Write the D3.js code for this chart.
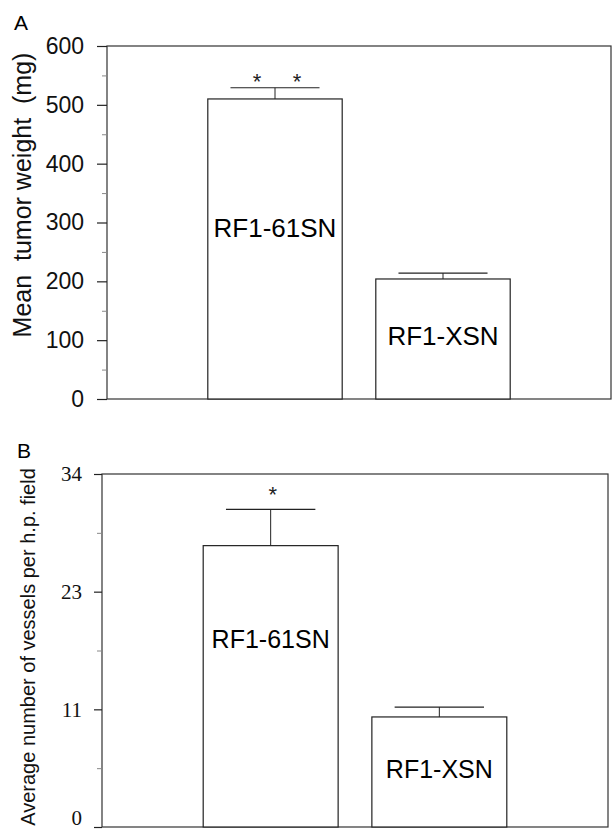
<!DOCTYPE html>
<html lang="en">
    <head>
        <meta charset="utf-8">
        <title>Tumor weight and vessel counts</title>
        <script src="https://d3js.org/d3.v7.min.js"></script>
        <style type="text/css">
          body { margin: 0; background: #fff; }
          svg { display: block; }
          .sans { font-family: "Liberation Sans", Arial, Helvetica, sans-serif; }
          .serif { font-family: "Liberation Serif", "Times New Roman", serif; }
        </style>
    </head>
    <body>
        <svg width="613" height="833"></svg>
        <script type="text/javascript">

            // data
            const groups = ["RF1-61SN", "RF1-XSN"];
            const tumorWeight = [510, 204];      // mg
            const tumorErr = [19, 10];
            const vesselCount = [27.1, 10.6];    // vessels per h.p. field
            const vesselErr = [3.5, 0.95];
            const weightTicks = [0, 100, 200, 300, 400, 500, 600];
            const weightMinor = [50, 150, 250, 350, 450, 550];
            const vesselTicks = [0, 34 / 3, 68 / 3, 34];
            const vesselTickLabels = ["0", "11", "23", "34"];
            const vesselMinor = [34 / 6, 34 / 2, 34 * 5 / 6];
            const weightStars = ["*", "*"];
            const vesselStars = ["*"];

            const svg = d3.select("svg");

            const panels = [
              {
                letter: "A", letterX: 14, letterY: 30,
                x0: 107, x1: 611, y0: 46, y1: 399,
                max: 600, values: tumorWeight, errs: tumorErr,
                ticks: weightTicks, labels: weightTicks.map(String), minor: weightMinor,
                tickLen: 10, tickPad: 13, tickFont: 23, tickClass: "sans",
                title: "Mean  tumor weight  (mg)", titleX: 31, titleY: 195, titleSize: 25,
                labelAt: [275, 92], labelSize: 26,
                stars: weightStars, starDx: [-18, 22], starY: 89
              },
              {
                letter: "B", letterX: 17, letterY: 458,
                x0: 102, x1: 608, y0: 474, y1: 827,
                max: 34, values: vesselCount, errs: vesselErr,
                ticks: vesselTicks, labels: vesselTickLabels, minor: vesselMinor,
                tickLen: 8, tickPad: 12, tickFont: 21, tickClass: "serif",
                title: "Average number of vessels per h.p. field", titleX: 35, titleY: 647, titleSize: 20,
                labelAt: [17.2, 4.7], labelSize: 25,
                stars: vesselStars, starDx: [2], starY: 502
              }
            ];

            panels.forEach(p => {
              const x = d3.scaleLinear().domain([0, 3]).range([p.x0, p.x1]);
              const y = d3.scaleLinear().domain([0, p.max]).range([p.y1, p.y0]);
              const barW = x(0.8) - x(0);
              const capW = x(0.53) - x(0);
              const g = svg.append("g");

              // frame
              g.append("rect")
                .attr("x", p.x0).attr("y", p.y0)
                .attr("width", p.x1 - p.x0).attr("height", p.y1 - p.y0)
                .attr("fill", "none").attr("stroke", "#333").attr("stroke-width", 1.2);

              // minor ticks
              g.append("g")
                .attr("transform", `translate(${p.x0},0)`)
                .call(d3.axisLeft(y).tickValues(p.minor).tickSize(5).tickFormat(""))
                .call(a => a.select(".domain").remove())
                .selectAll("line").attr("stroke", "#888");

              // major ticks + labels
              const ax = g.append("g")
                .attr("transform", `translate(${p.x0},0)`)
                .call(d3.axisLeft(y).tickValues(p.ticks).tickSize(p.tickLen)
                  .tickPadding(p.tickPad).tickFormat((d, i) => p.labels[i]));
              ax.select(".domain").remove();
              ax.selectAll("line").attr("stroke", "#222").attr("stroke-width", 1.2);
              ax.selectAll("text")
                .attr("class", p.tickClass)
                .style("font-size", p.tickFont + "px")
                .attr("fill", "#111");
              // the bottom label sits on the page edge, lift it a little
              ax.selectAll("text").filter(d => d === 0 && p.letter === "B").attr("dy", "-0.1em");

              // bars
              g.selectAll(".bar")
                .data(p.values)
                .enter()
                .append("rect")
                .attr("x", (d, i) => x(i + 1) - barW / 2)
                .attr("y", d => y(d))
                .attr("width", barW)
                .attr("height", d => y(0) - y(d))
                .attr("fill", "#fff")
                .attr("stroke", "#222")
                .attr("stroke-width", 1.2);

              // error bars (upper only)
              g.selectAll(".err")
                .data(p.values)
                .enter()
                .append("line")
                .attr("x1", (d, i) => x(i + 1)).attr("x2", (d, i) => x(i + 1))
                .attr("y1", d => y(d))
                .attr("y2", (d, i) => y(d + p.errs[i]))
                .attr("stroke", "#222");

              g.selectAll(".cap")
                .data(p.values)
                .enter()
                .append("line")
                .attr("x1", (d, i) => x(i + 1) - capW / 2)
                .attr("x2", (d, i) => x(i + 1) + capW / 2)
                .attr("y1", (d, i) => y(d + p.errs[i]))
                .attr("y2", (d, i) => y(d + p.errs[i]))
                .attr("stroke", "#222")
                .attr("stroke-width", 1.2);

              // significance stars
              g.selectAll(".star")
                .data(p.stars)
                .enter()
                .append("text")
                .attr("class", "sans")
                .attr("x", (d, i) => x(1) + p.starDx[i])
                .attr("y", p.starY)
                .attr("text-anchor", "middle")
                .style("font-size", "22px")
                .attr("fill", "#222")
                .text(d => d);

              // bar labels
              g.selectAll(".lbl")
                .data(groups)
                .enter()
                .append("text")
                .attr("class", "sans")
                .attr("x", (d, i) => x(i + 1))
                .attr("y", (d, i) => y(p.labelAt[i]))
                .attr("text-anchor", "middle")
                .style("font-size", p.labelSize + "px")
                .attr("fill", "#000")
                .text(d => d);

              // y title
              g.append("text")
                .attr("class", "sans")
                .attr("transform", `translate(${p.titleX},${p.titleY}) rotate(-90)`)
                .attr("text-anchor", "middle")
                .style("font-size", p.titleSize + "px")
                .style("white-space", "pre")
                .attr("fill", "#111")
                .text(p.title);

              // panel letter
              g.append("text")
                .attr("class", "sans")
                .attr("x", p.letterX).attr("y", p.letterY)
                .style("font-size", "21px")
                .attr("fill", "#000")
                .text(p.letter);
            });

        </script>
    </body>
</html>
